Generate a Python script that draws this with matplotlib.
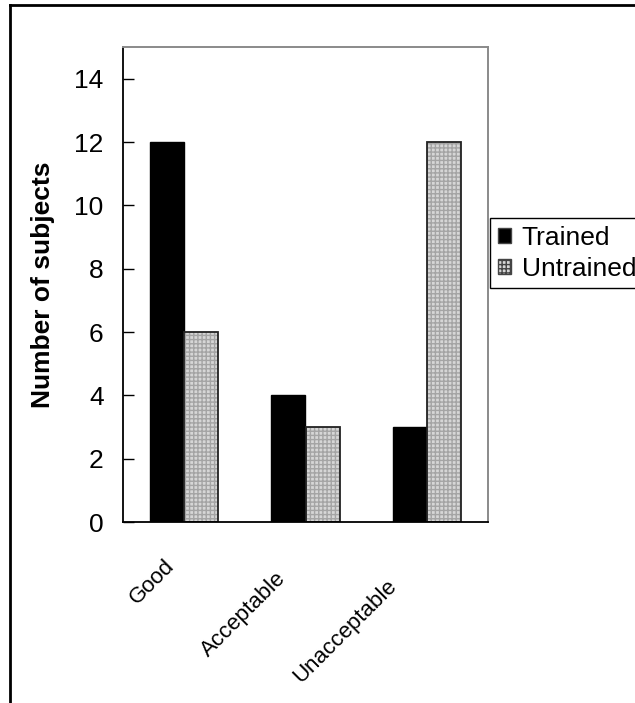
import matplotlib.pyplot as plt
import matplotlib.transforms as mtransforms
import numpy as np
from matplotlib.lines import Line2D

plt.rcParams['font.family'] = ['Liberation Sans', 'DejaVu Sans']

categories = ['Good', 'Acceptable', 'Unacceptable']
trained = [12, 4, 3]
untrained = [6, 3, 12]
y_ticks = [0, 2, 4, 6, 8, 10, 12, 14]

fig = plt.figure(figsize=(6.35, 7.03), dpi=100)
ax = fig.add_axes([123 / 635, 1 - 522 / 703, 365 / 635, 475 / 703])

x = np.arange(len(categories))
w = 0.28

ax.bar(x - w / 2, trained, w, color='black', edgecolor='black', linewidth=1, label='Trained')
ax.bar(x + w / 2, untrained, w, color='#d6d6d6', hatch='++++', edgecolor='#a4a4a4', linewidth=0)
ax.bar(x + w / 2, untrained, w, fill=False, edgecolor='#222222', linewidth=1.3)

ax.set_xlim(-0.5, 2.5)
ax.set_ylim(0, 15)
ax.set_yticks(y_ticks)
ax.tick_params(axis='y', direction='in', length=8, width=1, labelsize=19, pad=14)
ax.tick_params(axis='x', length=0, pad=10)
ax.set_xticks(x)
ax.set_xticklabels(categories, rotation=45, ha='right', rotation_mode='anchor', fontsize=16)

# pixel offsets of each rotated label
shifts = [(-20, -20), (-30, -32), (-41, -40)]
for lab, (dx, dy) in zip(ax.get_xticklabels(), shifts):
    lab.set_transform(lab.get_transform() + mtransforms.ScaledTranslation(dx / 100, dy / 100, fig.dpi_scale_trans))

ax.set_ylabel('Number of subjects', fontsize=19, fontweight='bold', labelpad=14)

for s in ['top', 'right']:
    ax.spines[s].set_color('#8a8a8a')
    ax.spines[s].set_linewidth(1.4)
    ax.spines[s].set_linestyle((0, (2, 1)))
for s in ['left', 'bottom']:
    ax.spines[s].set_color('black')
    ax.spines[s].set_linewidth(1.3)

# legend handles
h1 = plt.Rectangle((0, 0), 1, 1, facecolor='black', edgecolor='#444444')
h2 = plt.Rectangle((0, 0), 1, 1, facecolor='#d6d6d6', hatch='++++', edgecolor='#444444')
fig.legend([h1, h2], ['Trained', 'Untrained'], loc='upper left',
           bbox_to_anchor=(490 / 635, 1 - 218 / 703), fontsize=19,
           frameon=True, fancybox=False, edgecolor='black', framealpha=1,
           handlelength=0.5, handleheight=0.5, handletextpad=0.4,
           borderpad=0.3, labelspacing=0.25, borderaxespad=0)

# outer frame
fig.add_artist(Line2D([10 / 635, 1], [1 - 5 / 703, 1 - 5 / 703], color='black', lw=2, transform=fig.transFigure))
fig.add_artist(Line2D([10 / 635, 10 / 635], [0, 1 - 5 / 703], color='black', lw=2, transform=fig.transFigure))

plt.savefig('out.png', dpi=100)
